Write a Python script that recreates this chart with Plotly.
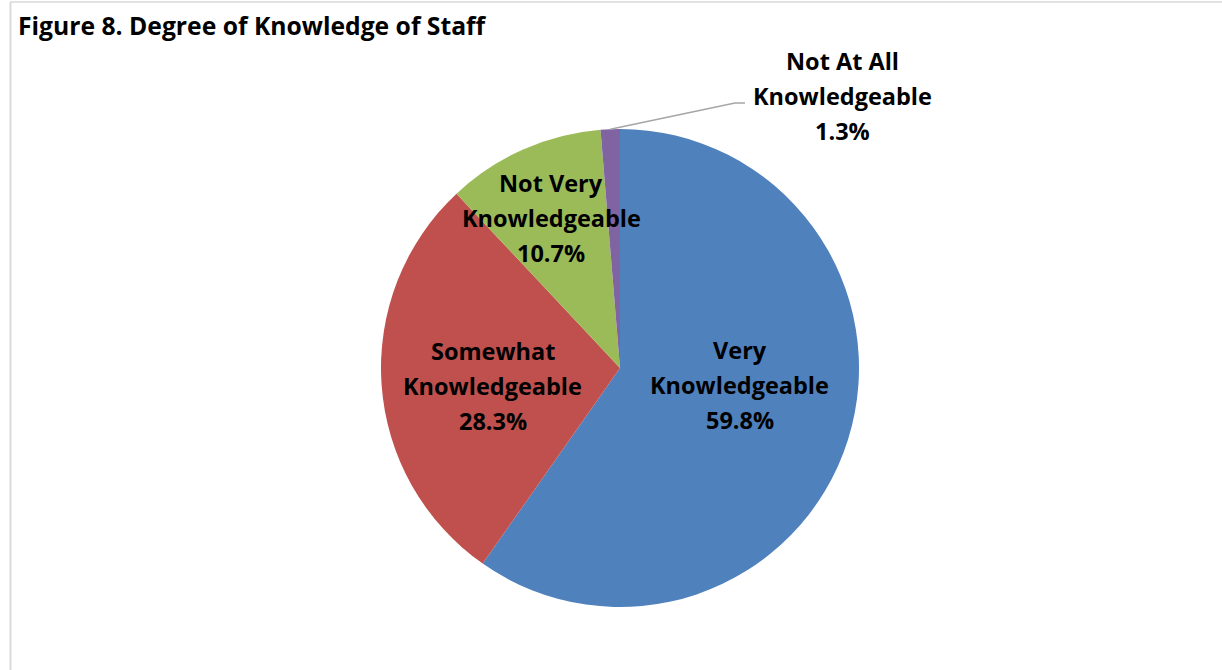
import math
import plotly.graph_objects as go

# ---- data ----
categories = ["Very Knowledgeable", "Somewhat Knowledgeable", "Not Very Knowledgeable", "Not At All Knowledgeable"]
label_lines = [["Very", "Knowledgeable"], ["Somewhat", "Knowledgeable"], ["Not Very", "Knowledgeable"], ["Not At All", "Knowledgeable"]]
values = [59.8, 28.3, 10.7, 1.3]
colors = ["#4F81BD", "#C0504D", "#9BBB59", "#8064A2"]
title = "Figure 8. Degree of Knowledge of Staff"

# ---- layout constants (pixels, in window coordinates) ----
W, H = 1222, 670
OFF = 0  # page body margin removed via post_script
CX, CY, R = 620, 368, 239
FONT = "Open Sans"
FS = 23.5
LINE_H = 35
radial_factor = [0.5, 0.53, 0.69, None]  # None -> outside label
label_nudge = [(6, -19), (-1, 9), (-2, 1), (0, 0)]
outside_label_px = (842, 96)  # center of outside label middle line
leader_end_px = (745, 103)


def px(x):
    return (x - OFF) / W


def py(y):
    return 1 - (y - OFF) / H


fig = go.Figure(go.Pie(
    labels=categories,
    values=values,
    sort=False,
    direction="clockwise",
    rotation=0,
    marker=dict(colors=colors, line=dict(width=0)),
    textinfo="none",
    hoverinfo="label+value",
    showlegend=False,
    domain=dict(x=[px(CX - R), px(CX + R)], y=[py(CY + R), py(CY - R)]),
))

annotations = []
shapes = []
total = sum(values)
cum = 0.0
for i, v in enumerate(values):
    mid = (cum + v / 2) / total * 2 * math.pi
    cum += v
    lines = label_lines[i] + [f"{v:.1f}%"]
    if radial_factor[i] is not None:
        r = R * radial_factor[i]
        lx = CX + r * math.sin(mid) + label_nudge[i][0]
        ly = CY - r * math.cos(mid) + label_nudge[i][1]
    else:
        lx, ly = outside_label_px
        ex = CX + R * math.sin(mid)
        ey = CY - R * math.cos(mid)
        shapes.append(dict(type="line", xref="paper", yref="paper",
                           x0=px(ex), y0=py(ey), x1=px(leader_end_px[0] - 10), y1=py(leader_end_px[1]),
                           line=dict(color="#A6A6A6", width=1.5)))
        shapes.append(dict(type="line", xref="paper", yref="paper",
                           x0=px(leader_end_px[0] - 10), y0=py(leader_end_px[1]),
                           x1=px(leader_end_px[0]), y1=py(leader_end_px[1]),
                           line=dict(color="#A6A6A6", width=1.5)))
    n = len(lines)
    for j, t in enumerate(lines):
        yy = ly + (j - (n - 1) / 2) * LINE_H
        annotations.append(dict(x=px(lx), y=py(yy), xref="paper", yref="paper",
                                text=f"<b>{t}</b>", showarrow=False,
                                xanchor="center", yanchor="middle",
                                font=dict(family=FONT, size=FS, color="#000000")))

annotations.append(dict(x=px(16), y=py(26), xref="paper", yref="paper",
                        text=f"<b>{title}</b>", showarrow=False,
                        xanchor="left", yanchor="middle",
                        font=dict(family=FONT, size=24.7, color="#000000")))

# chart frame
shapes.append(dict(type="line", xref="paper", yref="paper", x0=px(10.5), y0=py(2), x1=px(10.5), y1=0,
                   line=dict(color="#D9D9D9", width=2)))
shapes.append(dict(type="line", xref="paper", yref="paper", x0=px(10), y0=py(2), x1=1, y1=py(2),
                   line=dict(color="#D9D9D9", width=1.5)))

fig.update_layout(
    width=W, height=H,
    margin=dict(l=0, r=0, t=0, b=0),
    paper_bgcolor="white", plot_bgcolor="white",
    annotations=annotations, shapes=shapes,
)

fig.write_html("out.html", config={"displayModeBar": False},
               post_script="document.body.style.margin='0';document.body.style.overflow='hidden';")
